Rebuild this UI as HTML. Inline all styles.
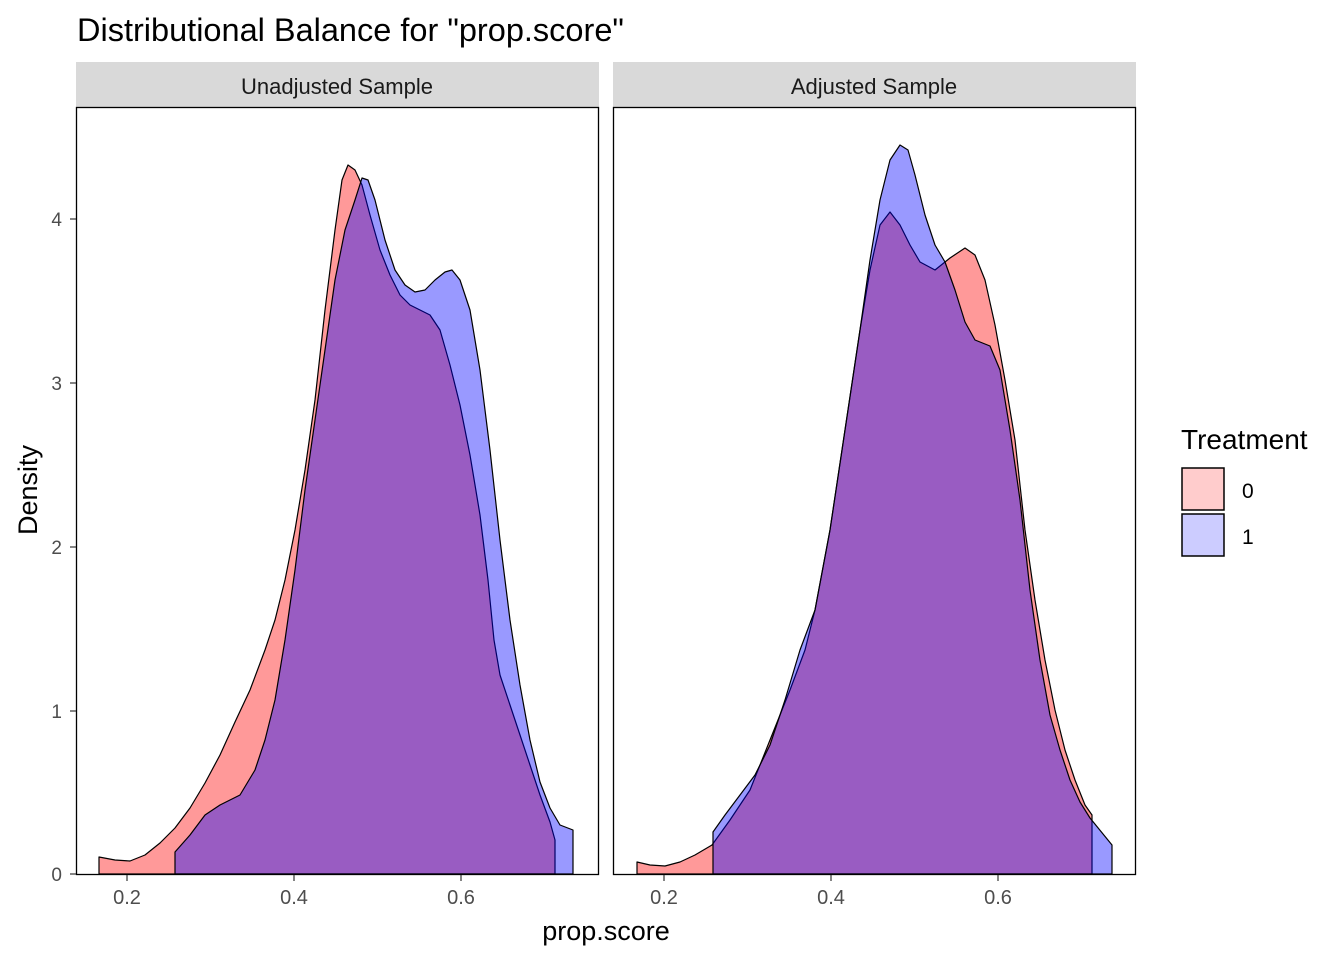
<!DOCTYPE html>
<html><head><style>body{margin:0;background:#fff}</style></head><body>
<svg width="1344" height="960" xmlns="http://www.w3.org/2000/svg" font-family="Liberation Sans, sans-serif">
<rect width="1344" height="960" fill="#fff"/>
<text x="77" y="41" font-size="32.5" fill="#000">Distributional Balance for "prop.score"</text>
<rect x="76" y="62" width="523" height="45" fill="#d9d9d9"/>
<rect x="613" y="62" width="523" height="45" fill="#d9d9d9"/>
<text x="337" y="94" font-size="22" fill="#1a1a1a" text-anchor="middle">Unadjusted Sample</text>
<text x="874" y="94" font-size="22" fill="#1a1a1a" text-anchor="middle">Adjusted Sample</text>
<g stroke="#000" stroke-width="1.2" stroke-linejoin="round">
<polygon fill="#ff0000" fill-opacity="0.4" points="99,874 99,857 115,860 130,861 145,855 160,843 175,828 190,808 205,783 220,755 235,722 250,690 265,650 275,620 285,580 295,530 305,470 315,400 325,310 335,230 342,180 348,165 355,170 362,185 370,215 380,250 390,275 400,295 410,305 420,310 430,315 440,330 450,365 460,405 470,455 480,515 488,580 494,640 500,675 510,705 520,735 530,765 540,795 550,822 555,840 555,874"/>
<polygon fill="#0000ff" fill-opacity="0.4" points="175,874 175,852 190,835 205,815 220,805 240,795 255,770 265,740 275,700 285,640 295,570 305,490 315,420 325,350 335,280 345,230 355,200 362,178 368,180 375,200 385,240 395,270 405,285 415,292 425,290 435,280 445,272 452,270 460,280 470,310 480,370 490,450 500,540 510,620 520,685 530,740 540,782 550,808 560,825 573,830 573,874"/>
<polygon fill="#ff0000" fill-opacity="0.4" points="637,874 637,862 650,865 665,866 680,862 695,855 712,845 730,820 750,790 770,740 790,690 805,650 815,610 830,530 845,430 860,330 870,270 880,225 890,212 900,225 910,245 920,262 935,270 950,258 965,248 975,255 985,280 995,325 1005,380 1015,440 1025,530 1035,600 1045,660 1055,710 1065,750 1075,780 1085,805 1092,815 1092,874"/>
<polygon fill="#0000ff" fill-opacity="0.4" points="713,874 713,832 725,815 740,795 755,775 770,745 785,700 800,650 815,610 830,530 845,430 860,330 870,260 880,200 890,160 900,145 908,150 915,175 925,215 935,245 945,262 955,290 965,322 975,340 990,346 1000,370 1010,430 1020,500 1030,590 1040,660 1050,715 1060,750 1070,780 1080,802 1090,818 1112,845 1112,874"/>
</g>
<rect x="76.5" y="107.5" width="522" height="767" fill="none" stroke="#000" stroke-width="1.3"/>
<rect x="613.5" y="107.5" width="522" height="767" fill="none" stroke="#000" stroke-width="1.3"/>
<g font-size="19" fill="#4d4d4d" text-anchor="end">
<text x="62" y="881">0</text><text x="62" y="718">1</text><text x="62" y="554">2</text><text x="62" y="390">3</text><text x="62" y="226">4</text>
</g>
<g stroke="#333" stroke-width="1.2">
<line x1="70" y1="874" x2="76" y2="874"/><line x1="70" y1="711" x2="76" y2="711"/><line x1="70" y1="547" x2="76" y2="547"/><line x1="70" y1="383" x2="76" y2="383"/><line x1="70" y1="219" x2="76" y2="219"/>
<line x1="127" y1="875" x2="127" y2="881"/><line x1="294" y1="875" x2="294" y2="881"/><line x1="461" y1="875" x2="461" y2="881"/>
<line x1="664" y1="875" x2="664" y2="881"/><line x1="831" y1="875" x2="831" y2="881"/><line x1="998" y1="875" x2="998" y2="881"/>
</g>
<g font-size="20" fill="#4d4d4d" text-anchor="middle">
<text x="127" y="904">0.2</text><text x="294" y="904">0.4</text><text x="461" y="904">0.6</text>
<text x="664" y="904">0.2</text><text x="831" y="904">0.4</text><text x="998" y="904">0.6</text>
</g>
<text x="606" y="940" font-size="27" text-anchor="middle">prop.score</text>
<text transform="translate(37,490) rotate(-90)" font-size="27" text-anchor="middle">Density</text>
<text x="1181" y="449" font-size="28">Treatment</text>
<rect x="1181" y="467" width="44" height="44" fill="#fff"/>
<rect x="1182" y="468" width="42" height="42" fill="#ff0000" fill-opacity="0.2" stroke="#000" stroke-width="1.5"/>
<rect x="1182" y="514" width="42" height="42" fill="#0000ff" fill-opacity="0.2" stroke="#000" stroke-width="1.5"/>
<text x="1242" y="498" font-size="21">0</text>
<text x="1242" y="544" font-size="21">1</text>
</svg>
</body></html>
